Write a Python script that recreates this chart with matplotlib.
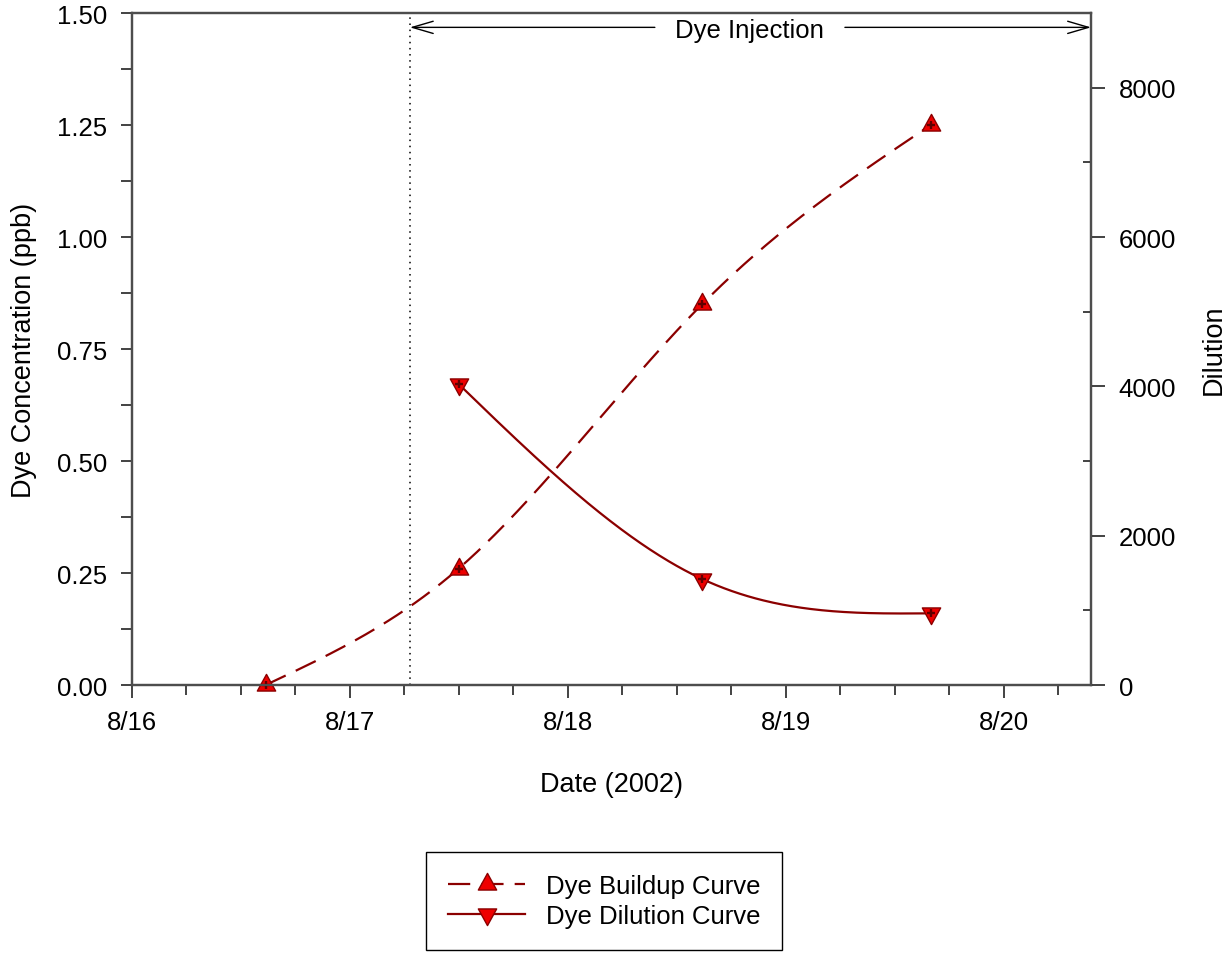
import numpy as np
import matplotlib
matplotlib.use("Agg")
import matplotlib.pyplot as plt
from matplotlib.path import Path
from matplotlib.ticker import MultipleLocator, FixedLocator, FixedFormatter, FormatStrFormatter

plt.rcParams['font.family'] = ['Liberation Sans', 'DejaVu Sans']

# Sampling times, in days after 8/16/2002 00:00
buildup_days = [0.613, 1.499, 2.616, 3.665]
buildup_ppb = [0.00, 0.26, 0.85, 1.25]

dilution_days = [1.499, 2.616, 3.665]
dilution_factor = [4030, 1420, 960]

injection_start = 1.275
date_ticks = [0, 1, 2, 3, 4]
date_labels = ['8/16', '8/17', '8/18', '8/19', '8/20']

LINE = '#8b0000'
FILL = '#ee0000'
SPINE = '#4d4d4d'
FS = 18.5
MS = 16


def natural_spline(x, y, xs):
    x = np.asarray(x, float)
    y = np.asarray(y, float)
    n = len(x)
    h = np.diff(x)
    A = np.zeros((n, n))
    b = np.zeros(n)
    A[0, 0] = A[-1, -1] = 1.0
    for i in range(1, n - 1):
        A[i, i - 1] = h[i - 1]
        A[i, i] = 2 * (h[i - 1] + h[i])
        A[i, i + 1] = h[i]
        b[i] = 6 * ((y[i + 1] - y[i]) / h[i] - (y[i] - y[i - 1]) / h[i - 1])
    M = np.linalg.solve(A, b)
    idx = np.clip(np.searchsorted(x, xs) - 1, 0, n - 2)
    x0, x1 = x[idx], x[idx + 1]
    hh = x1 - x0
    t0, t1 = x1 - xs, xs - x0
    return (M[idx] * t0 ** 3 / (6 * hh) + M[idx + 1] * t1 ** 3 / (6 * hh)
            + (y[idx] / hh - M[idx] * hh / 6) * t0
            + (y[idx + 1] / hh - M[idx + 1] * hh / 6) * t1)


# Triangle markers centred on their centroid
tri_up = Path([(0, 0.667), (-0.55, -0.333), (0.55, -0.333), (0, 0.667)], closed=True)
tri_dn = Path([(0, -0.667), (-0.55, 0.333), (0.55, 0.333), (0, -0.667)], closed=True)

fig = plt.figure(figsize=(12.29, 9.54), dpi=100)
ax = fig.add_axes([0.1074, 0.2809, 0.7803, 0.7044])
ax2 = ax.twinx()

ax.set_xlim(0, 4.40)
ax.set_ylim(0, 1.5)
ax2.set_ylim(0, 9000)

# Buildup curve (left axis)
xs_b = np.linspace(buildup_days[0], buildup_days[-1], 300)
ax.plot(xs_b, natural_spline(buildup_days, buildup_ppb, xs_b), color=LINE,
        lw=1.6, dashes=(10, 5))
ax.plot(buildup_days, buildup_ppb, linestyle='none', marker=tri_up, ms=MS,
        mfc=FILL, mec=LINE, mew=1.0, clip_on=False, zorder=5)
ax.plot(buildup_days, buildup_ppb, linestyle='none', marker='+', ms=6,
        mec='#600000', mew=1.7, clip_on=False, zorder=6)

# Dilution curve (right axis)
xs_d = np.linspace(dilution_days[0], dilution_days[-1], 300)
ax2.plot(xs_d, natural_spline(dilution_days, dilution_factor, xs_d), color=LINE, lw=1.6)
ax2.plot(dilution_days, dilution_factor, linestyle='none', marker=tri_dn, ms=MS,
         mfc=FILL, mec=LINE, mew=1.0, zorder=5)
ax2.plot(dilution_days, dilution_factor, linestyle='none', marker='+', ms=6,
         mec='#600000', mew=1.7, zorder=6)

# Injection period
ax.axvline(injection_start, color='black', lw=1.1, linestyle=(0, (1, 3)))
arrow_y = 1.468
arrow = dict(arrowstyle='->,head_length=0.75,head_width=0.22', color='black',
             lw=1.0, shrinkA=0, shrinkB=0, mutation_scale=20)
ax.annotate('', xy=(injection_start, arrow_y), xytext=(2.399, arrow_y), arrowprops=arrow)
ax.annotate('', xy=(4.40, arrow_y), xytext=(3.271, arrow_y), arrowprops=arrow,
            annotation_clip=False)
ax.text(2.835, 1.462, 'Dye Injection', ha='center', va='center', fontsize=FS)

# Axes styling
for a in (ax, ax2):
    for s in a.spines.values():
        s.set_color(SPINE)
        s.set_linewidth(1.6)

ax.xaxis.set_major_locator(FixedLocator(date_ticks))
ax.xaxis.set_major_formatter(FixedFormatter(date_labels))
ax.xaxis.set_minor_locator(MultipleLocator(0.25))
ax.yaxis.set_major_locator(MultipleLocator(0.25))
ax.yaxis.set_minor_locator(MultipleLocator(0.125))
ax.yaxis.set_major_formatter(FormatStrFormatter('%.2f'))
ax2.yaxis.set_major_locator(MultipleLocator(2000))
ax2.yaxis.set_minor_locator(MultipleLocator(1000))

ax.tick_params(axis='x', which='major', direction='out', length=9, width=1.2,
               color='#222222', labelsize=FS, pad=9)
ax.tick_params(axis='x', which='minor', direction='out', length=7, width=1.2,
               color='#222222')
ax.tick_params(axis='y', which='both', direction='out', length=8, width=1.2,
               color='#222222', labelsize=FS, pad=10)
ax2.tick_params(axis='y', which='major', direction='out', length=10, width=1.2,
                color='#222222', labelsize=FS, pad=10)
ax2.tick_params(axis='y', which='minor', direction='in', length=6, width=1.2,
                color='#222222')

ax.set_xlabel('Date (2002)', fontsize=FS + 1, va='center')
ax.xaxis.set_label_coords(0.5, -0.147)
ax.set_ylabel('Dye Concentration (ppb)', fontsize=FS + 1, va='center')
ax.yaxis.set_label_coords(-0.1127, 0.5)
ax2.set_ylabel('Dilution', fontsize=FS + 1, va='center')
ax2.yaxis.set_label_coords(1.128, 0.5)

# Legend
h1, = ax.plot([], [], color=LINE, lw=1.6, dashes=(10, 5), marker=tri_up, ms=MS,
              mfc=FILL, mec=LINE)
h2, = ax.plot([], [], color=LINE, lw=1.6, marker=tri_dn, ms=MS, mfc=FILL, mec=LINE)
leg = fig.legend([h1, h2], ['Dye Buildup Curve', 'Dye Dilution Curve'],
                 loc='center', bbox_to_anchor=(0.4915, 0.0545), fontsize=FS,
                 frameon=True, fancybox=False, edgecolor='black', framealpha=1,
                 handlelength=3.0, handletextpad=0.8, labelspacing=0.25,
                 borderpad=0.85, borderaxespad=0)
leg.get_frame().set_linewidth(1.0)

fig.savefig('out.png', dpi=100)
